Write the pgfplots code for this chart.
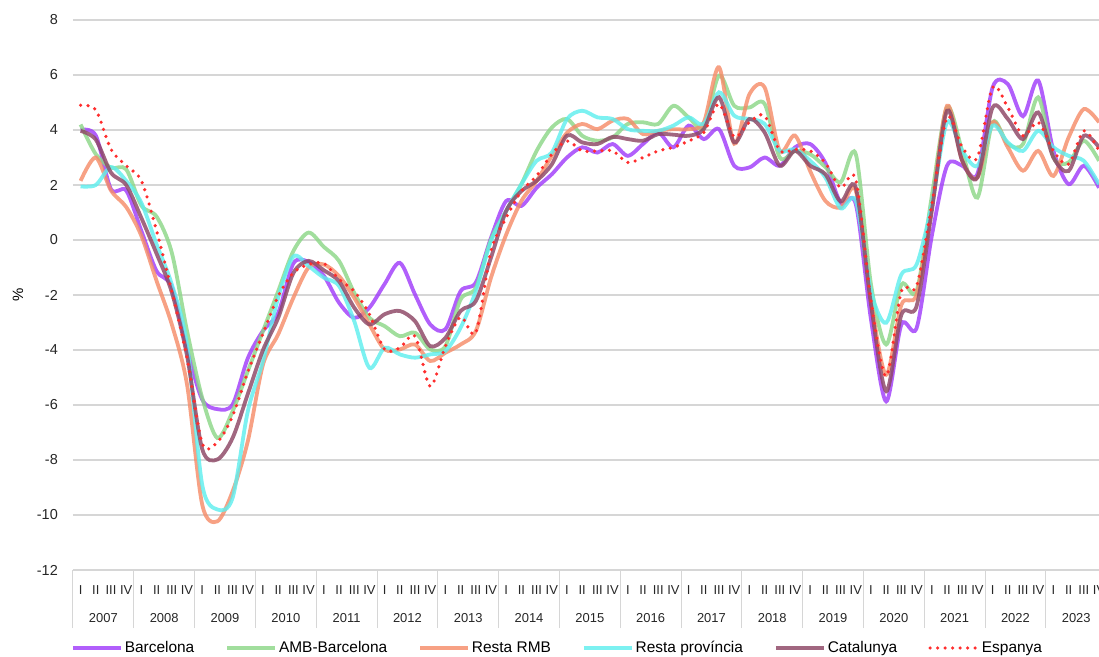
\documentclass[border=0pt]{standalone}
\usepackage{fontspec}
\setmainfont{Liberation Sans}
\usepackage{pgfplots}
\pgfplotsset{compat=1.18}
\usepackage{pgfplotstable}

\definecolor{cBar}{RGB}{160,60,250}
\definecolor{cAMB}{RGB}{140,215,135}
\definecolor{cRMB}{RGB}{245,140,105}
\definecolor{cPro}{RGB}{95,238,238}
\definecolor{cCat}{RGB}{140,70,100}
\definecolor{cEsp}{RGB}{255,45,45}

\pgfplotstableread{
i B A R P C E
0 4.0 4.2 2.15 1.95 3.97 4.9
1 3.8 3.12 3.0 2.0 3.65 4.73
2 1.85 2.63 1.8 2.65 2.45 3.3
3 1.8 2.57 1.2 2.15 2.0 2.7
4 0.33 1.25 0.15 1.35 0.8 2.15
5 -1.13 0.85 -1.49 -0.16 -0.5 0.33
6 -1.7 -0.46 -3.07 -1.61 -1.9 -1.86
7 -3.97 -3.3 -5.25 -3.8 -4.2 -4.28
8 -5.8 -5.74 -9.62 -8.9 -7.6 -7.4
9 -6.15 -7.2 -10.23 -9.8 -7.98 -7.35
10 -5.98 -6.23 -9.14 -9.38 -7.2 -6.4
11 -4.3 -4.77 -7.32 -6.23 -5.6 -4.8
12 -3.3 -3.31 -4.53 -4.4 -4.0 -3.4
13 -2.65 -1.86 -3.43 -2.1 -2.83 -2.04
14 -0.85 -0.4 -2.1 -0.6 -1.2 -1.19
15 -0.8 0.27 -1.0 -0.95 -0.76 -0.89
16 -1.3 -0.25 -0.89 -1.37 -1.1 -0.85
17 -2.28 -0.76 -1.31 -1.67 -1.5 -1.43
18 -2.83 -1.92 -2.1 -2.95 -2.46 -1.86
19 -2.46 -2.83 -3.07 -4.65 -3.07 -2.7
20 -1.6 -3.13 -3.98 -3.92 -2.7 -3.98
21 -0.83 -3.5 -3.98 -4.16 -2.58 -3.92
22 -1.98 -3.37 -3.8 -4.28 -2.95 -3.5
23 -3.07 -3.98 -4.4 -4.16 -3.86 -5.32
24 -3.25 -3.86 -4.1 -4.04 -3.56 -3.86
25 -1.86 -2.16 -3.8 -3.19 -2.58 -2.8
26 -1.55 -1.74 -3.31 -1.86 -2.22 -3.37
27 0.08 0.02 -1.37 -0.04 -0.64 -0.4
28 1.42 1.06 0.2 1.06 1.06 0.81
29 1.24 2.03 1.42 2.03 1.78 1.78
30 1.9 3.24 2.15 2.88 2.15 2.33
31 2.39 4.09 3.06 3.18 2.75 3.12
32 3.0 4.4 3.9 4.4 3.8 3.6
33 3.37 3.79 4.22 4.7 3.55 3.24
34 3.18 3.61 4.03 4.46 3.49 3.24
35 3.49 3.73 4.34 4.4 3.75 3.24
36 3.06 4.22 4.4 4.03 3.67 2.82
37 3.49 4.28 3.85 3.97 3.61 3.0
38 3.91 4.22 3.97 3.97 3.85 3.24
39 3.37 4.88 4.03 4.16 3.83 3.37
40 4.16 4.46 4.03 4.46 3.79 3.6
41 3.67 4.09 4.28 4.22 4.03 3.91
42 4.03 5.98 6.28 5.37 5.19 4.95
43 2.70 4.88 3.5 4.52 3.55 3.75
44 2.64 4.82 5.3 4.4 4.4 4.28
45 3.0 4.95 5.55 4.22 3.91 4.52
46 2.70 3.0 3.24 3.24 2.70 3.24
47 3.37 3.24 3.8 3.3 3.24 3.3
48 3.49 3.12 2.5 2.88 2.70 3.24
49 2.8 2.65 1.42 2.27 2.39 2.8
50 1.35 2.1 1.18 1.15 1.4 1.9
51 1.3 3.12 1.79 1.42 1.9 2.2
52 -2.9 -1.62 -2.22 -1.86 -2.35 -2.22
53 -5.87 -3.8 -4.9 -3.01 -5.5 -4.96
54 -3.07 -1.62 -2.35 -1.25 -2.71 -1.86
55 -3.2 -1.86 -1.98 -0.89 -2.4 -1.68
56 0.15 1.6 1.18 1.3 1.06 1.3
57 2.7 4.82 4.88 4.28 4.7 4.46
58 2.7 3.24 2.88 3.24 2.88 3.37
59 2.4 1.54 2.27 2.7 2.27 3.0
60 5.55 4.28 4.28 4.16 4.82 5.55
61 5.67 3.49 3.37 3.55 4.4 4.82
62 4.5 3.49 2.52 3.24 3.67 3.79
63 5.8 5.19 3.24 3.97 4.64 4.28
64 3.24 3.0 2.33 3.37 3.0 3.24
65 2.03 2.82 3.73 3.06 2.51 2.76
66 2.7 3.61 4.76 2.88 3.79 3.97
67 1.9 2.88 4.28 2.03 3.37 3.24
}\data

\begin{document}
\begin{tikzpicture}
\begin{axis}[
  at={(0,0)}, anchor=south west,
  scale only axis, width=1026bp, height=550bp,
  xmin=-0.5, xmax=67, ymin=-12, ymax=8,
  ytick={-12,-10,...,8},
  ymajorgrids, grid style={draw=black!16, line width=1.2bp},
  axis line style={draw=none},
  major tick length=0pt,
  xtick={0,...,67},
  xticklabels={I,II,III,IV,I,II,III,IV,I,II,III,IV,I,II,III,IV,I,II,III,IV,I,II,III,IV,I,II,III,IV,I,II,III,IV,I,II,III,IV,I,II,III,IV,I,II,III,IV,I,II,III,IV,I,II,III,IV,I,II,III,IV,I,II,III,IV,I,II,III,IV,I,II,III,IV},
  minor xtick={-0.5,3.5,...,63.5},
  minor tick length=58bp,
  tick align=outside,
  xtick pos=left, ytick pos=left,
  every minor tick/.append style={draw=black!16, line width=1bp},
  /pgf/number format/assume math mode=true,
  tick label style={font=\fontsize{14.5}{17}\selectfont, text=black!85},
  x tick label style={anchor=center, yshift=-20bp, inner sep=0pt, font=\fontsize{13}{15}\selectfont},
  y tick label style={anchor=east, xshift=-15bp, inner sep=0pt},
  extra x ticks={1.5,5.5,...,65.5},
  extra x tick labels={2007,2008,2009,2010,2011,2012,2013,2014,2015,2016,2017,2018,2019,2020,2021,2022,2023},
  extra x tick style={grid=none, tick label style={yshift=-28bp, font=\fontsize{14.5}{17}\selectfont}},
  ylabel={\%},
  ylabel style={at={(axis description cs:-0.0536,0.5)}, anchor=center, font=\fontsize{15}{17}\selectfont},
  legend columns=6,
  legend style={at={(0.4722,0)}, anchor=center, yshift=-78bp, draw=none, fill=none,
    font=\fontsize{15.5}{18}\selectfont, inner sep=0pt,
    /tikz/every even column/.append style={column sep=29bp}},
  legend image code/.code={\draw[#1] (0bp,0bp) -- (48bp,0bp);},
  every axis plot/.append style={line width=3.8bp, smooth, opacity=0.82},
]
\addplot[cBar] table[x=i,y=B]{\data};
\addlegendentry{Barcelona}
\addplot[cAMB] table[x=i,y=A]{\data};
\addlegendentry{AMB-Barcelona}
\addplot[cRMB] table[x=i,y=R]{\data};
\addlegendentry{Resta RMB}
\addplot[cPro] table[x=i,y=P]{\data};
\addlegendentry{Resta província}
\addplot[cCat] table[x=i,y=C]{\data};
\addlegendentry{Catalunya}
\addplot[cEsp, opacity=1, line width=3.6bp, line cap=round, dash pattern=on 0bp off 7.5bp] table[x=i,y=E]{\data};
\addlegendentry{Espanya}
\end{axis}
\pgfresetboundingbox
\useasboundingbox (-73bp,-87bp) rectangle (1026bp,570bp);
\end{tikzpicture}
\end{document}
